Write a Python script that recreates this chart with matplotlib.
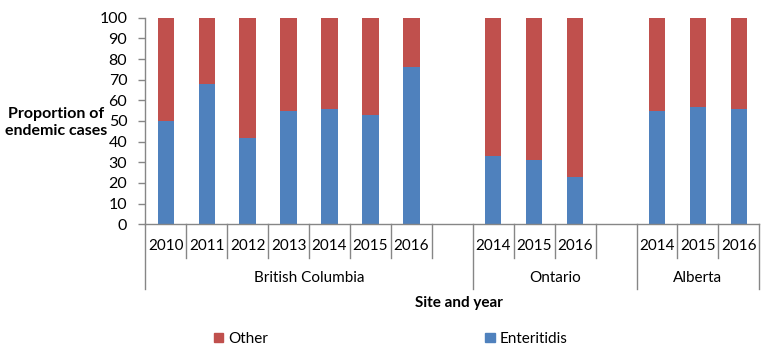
import numpy as np
import matplotlib
matplotlib.use('Agg')
import matplotlib.pyplot as plt
from matplotlib.patches import Patch
import matplotlib.transforms as mtransforms

plt.rcParams['font.family'] = ['Lato', 'DejaVu Sans']

# data
sites = ['British Columbia', 'Ontario', 'Alberta']
years = [['2010', '2011', '2012', '2013', '2014', '2015', '2016'],
         ['2014', '2015', '2016'],
         ['2014', '2015', '2016']]
enteritidis = [[50, 68, 42, 55, 56, 53, 76],
               [33, 31, 23],
               [55, 57, 56]]
other = [[100 - v for v in grp] for grp in enteritidis]

blue = '#4F81BD'
red = '#C0504D'
grey = '#868686'

fig = plt.figure(figsize=(7.8, 3.52), dpi=100)
ax = fig.add_axes([0.1863, 0.3628, 0.7872, 0.5869])

# slot positions: each site's years, then one blank slot (except after last)
xpos, labels, ent, oth = [], [], [], []
group_spans = []
slot = 0
for g, site in enumerate(sites):
    start = slot
    for y, e, o in zip(years[g], enteritidis[g], other[g]):
        xpos.append(slot)
        labels.append(y)
        ent.append(e)
        oth.append(o)
        slot += 1
    if g < len(sites) - 1:
        slot += 1
    group_spans.append((start, slot))
nslots = slot

ax.bar(xpos, ent, width=0.4, color=blue, zorder=2)
ax.bar(xpos, oth, width=0.4, bottom=ent, color=red, zorder=2)

ax.set_xlim(-0.5, nslots - 0.5)
ax.set_ylim(0, 100)
ax.set_yticks(np.arange(0, 101, 10))
ax.tick_params(axis='y', length=5, width=1, color=grey, labelsize=11.5, pad=8)
ax.set_xticks([])
for s in ['top', 'right']:
    ax.spines[s].set_visible(False)
for s in ['left', 'bottom']:
    ax.spines[s].set_color(grey)
    ax.spines[s].set_linewidth(1)

trans = mtransforms.blended_transform_factory(ax.transData, ax.transAxes)
group_edges = set()
for a, b in group_spans:
    group_edges.add(a)
    group_edges.add(b)
for i in range(nslots + 1):
    low = -0.313 if i in group_edges else -0.162
    ax.plot([i - 0.5, i - 0.5], [0, low], color=grey, lw=1,
            transform=trans, clip_on=False)

for x, lab in zip(xpos, labels):
    ax.text(x, -0.104, lab, transform=trans, ha='center', va='center',
            fontsize=11)
for (a, b), site in zip(group_spans, sites):
    ax.text((a + b - 1) / 2, -0.26, site, transform=trans, ha='center',
            va='center', fontsize=11)

fig.text(0.588, 0.139, 'Site and year', ha='center', va='center',
         fontsize=11, fontweight='bold')
fig.text(0.072, 0.652, 'Proportion of\nendemic cases', ha='center',
         va='center', fontsize=11.5, fontweight='bold', linespacing=1.3)

handles = [Patch(color=red, label='Other'), Patch(color=blue, label='Enteritidis')]
fig.legend(handles=handles, loc='center left', bbox_to_anchor=(214 / 780, 1 - 339 / 352),
           ncol=2, frameon=False, fontsize=11, handlelength=0.6, handleheight=0.6,
           handletextpad=0.35, columnspacing=14.2, borderpad=0, borderaxespad=0)

fig.savefig('out.png', dpi=100)
